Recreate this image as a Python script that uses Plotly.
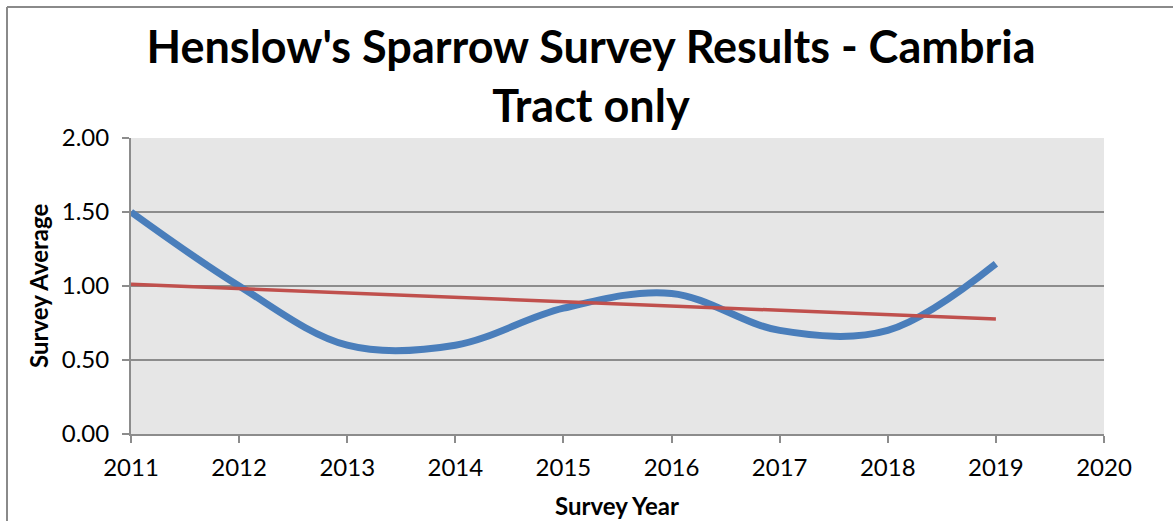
import numpy as np
import plotly.graph_objects as go

# Survey data
years = [2011, 2012, 2013, 2014, 2015, 2016, 2017, 2018, 2019]
survey_avg = [1.50, 1.00, 0.60, 0.60, 0.85, 0.95, 0.70, 0.70, 1.15]

title_text = "Henslow's Sparrow Survey Results - Cambria<br>Tract only"
x_title = "Survey Year"
y_title = "Survey Average"

# Linear trend line (least squares fit of the survey averages)
slope, intercept = np.polyfit(years, survey_avg, 1)
trend = [slope * yr + intercept for yr in years]

W, H = 1173, 521
L, R, T, B = 131, 69, 138, 87
plot_w = W - L - R
plot_h = H - T - B

FONT = "Lato"
GRID = "#8c8c8c"

fig = go.Figure()
fig.add_trace(go.Scatter(
    x=years, y=survey_avg, mode="lines",
    line=dict(color="#4a7ebb", width=7, shape="spline", smoothing=1.0),
    showlegend=False,
))
fig.add_trace(go.Scatter(
    x=[years[0], years[-1]], y=[trend[0], trend[-1]], mode="lines",
    line=dict(color="#c0504d", width=3.5),
    showlegend=False,
))

# chart frame lines (top and left edges of the outer border)
bx = (7 - L) / plot_w
by = (H - B - 7) / plot_h
fig.add_shape(type="line", xref="paper", yref="paper", x0=bx, x1=2, y0=by, y1=by,
              line=dict(color="#8a8a8a", width=2))
fig.add_shape(type="line", xref="paper", yref="paper", x0=bx, x1=bx, y0=by, y1=-2,
              line=dict(color="#8a8a8a", width=2))

fig.add_annotation(text=x_title, xref="paper", yref="paper",
                   x=(617 - L) / plot_w, y=-(505 - (H - B)) / plot_h,
                   showarrow=False, xanchor="center", yanchor="middle",
                   font=dict(family=FONT, size=24, color="black", weight="bold"))
fig.add_annotation(text=y_title, xref="paper", yref="paper",
                   x=(38 - L) / plot_w, y=0.5, textangle=-90,
                   showarrow=False, xanchor="center", yanchor="middle",
                   font=dict(family=FONT, size=24, color="black", weight="bold"))

fig.update_layout(
    width=W, height=H,
    margin=dict(l=L, r=R, t=T, b=B),
    paper_bgcolor="white",
    plot_bgcolor="#e6e6e6",
    title=dict(text=title_text, x=591 / W, xanchor="center",
               y=1 - 63 / H, yanchor="middle", yref="container",
               font=dict(family=FONT, size=45, color="black", weight="bold")),
    font=dict(family=FONT, size=24, color="black"),
    xaxis=dict(range=[2011, 2020], dtick=1, tick0=2011, showgrid=False,
               showline=True, linecolor=GRID, linewidth=2,
               ticks="outside", ticklen=7, tickwidth=2, tickcolor=GRID,
               ticklabelstandoff=4,
               tickfont=dict(family=FONT, size=24), zeroline=False),
    yaxis=dict(range=[0, 2], dtick=0.5, tickformat=".2f", showgrid=True,
               gridcolor=GRID, gridwidth=2,
               showline=True, linecolor=GRID, linewidth=2,
               ticks="outside", ticklen=7, tickwidth=2, tickcolor=GRID,
               ticklabelstandoff=8,
               tickfont=dict(family=FONT, size=24), zeroline=False),
)

fig.write_html("out.html")
